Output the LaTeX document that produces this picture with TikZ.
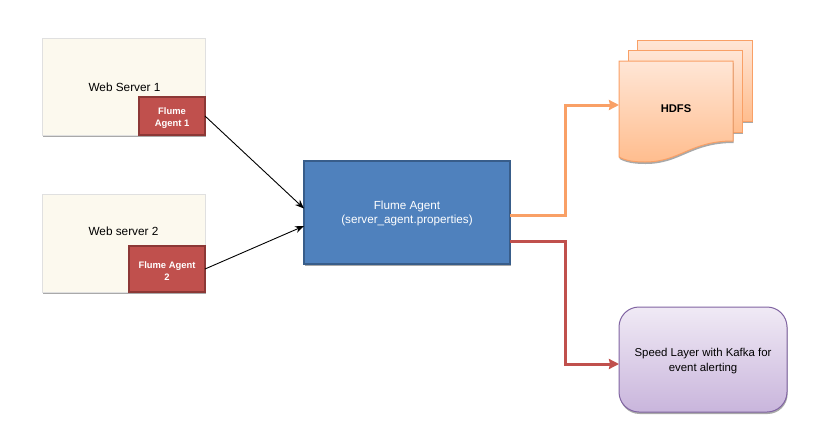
\documentclass[tikz,border=0pt]{standalone}
\usepackage{fontspec}
\setmainfont{Liberation Sans}
\usetikzlibrary{arrows.meta,shadows,calc}
\definecolor{creamc}{HTML}{FCF9EE}
\definecolor{redf}{HTML}{C0504D}
\definecolor{redd}{HTML}{8C3836}
\definecolor{bluef}{HTML}{4F81BD}
\definecolor{blued}{HTML}{385D8A}
\definecolor{orl}{HTML}{FFE6D6}
\definecolor{ord}{HTML}{FFBD8E}
\definecolor{orline}{HTML}{F9A066}
\definecolor{pul}{HTML}{F0EAF5}
\definecolor{pud}{HTML}{C9B5DC}
\definecolor{puline}{HTML}{8064A2}
\tikzset{
  softshadow/.style={drop shadow={shadow xshift=0.6pt,shadow yshift=-2pt,opacity=0.45,fill=black!75}},
  serverbox/.style={rectangle,fill=creamc,draw=black!12,line width=1pt,softshadow,inner sep=0pt,outer sep=0pt},
  servertext/.style={font=\fontsize{11.8}{14}\selectfont},
  agentbox/.style={rectangle,fill=redf,draw=redd,line width=1.2pt,inner sep=0pt,outer sep=0pt},
  agenttext/.style={text=white,font=\bfseries\fontsize{9.4}{12.4}\selectfont,align=center,yshift=-1.8pt},
  mainbox/.style={rectangle,fill=bluef,draw=blued,line width=1.3pt,softshadow,inner sep=0pt,outer sep=0pt},
  maintext/.style={text=white,font=\fontsize{11.7}{14}\selectfont,align=center,yshift=-1pt},
  speedbox/.style={rectangle,rounded corners=20pt,top color=pul,bottom color=pud,draw=puline,line width=1pt,softshadow,inner sep=0pt,outer sep=0pt},
  speedtext/.style={font=\fontsize{11.4}{15}\selectfont,align=center,yshift=-1.5pt},
  pagefill/.style={top color=orl,bottom color=ord,draw=orline,line width=1pt,softshadow},
  thinarrow/.style={draw=black,line width=0.9pt,-{Stealth[length=9pt,width=7pt]}},
  fatarrow/.style={line width=3pt,line join=miter,-{Stealth[length=10pt,width=10pt,inset=1pt]}},
}
\begin{document}
\begin{tikzpicture}[x=1pt,y=-1pt]
\useasboundingbox (0,0) rectangle (816,437);
% web servers
\node[serverbox,minimum width=163pt,minimum height=97pt] (ws1) at (123.5,86.5) {};
\node[servertext] (ws1t) at (124.5,87.5) {Web Server 1};
\node[agentbox,minimum width=66pt,minimum height=38pt,label={[agenttext]center:Flume\\Agent 1}] (fa1) at (172,116) {};
\node[serverbox,minimum width=163pt,minimum height=98pt] (ws2) at (123.5,243) {};
\node[servertext] (ws2t) at (123.5,231) {Web server 2};
\node[agentbox,minimum width=76pt,minimum height=46pt,label={[agenttext]center:Flume Agent\\2}] (fa2) at (167,269) {};
% central agent
\node[mainbox,minimum width=206pt,minimum height=103pt,label={[maintext]center:Flume Agent\\(server\_agent.properties)}] (main) at (407,212.5) {};
% HDFS stacked pages
\path[pagefill] (637,40) -- (752,40) -- (752,121) -- (637,121) -- cycle;
\path[pagefill] (628,50) -- (742,50) -- (742,132) -- (628,132) -- cycle;
\path[pagefill] (619,61) -- (733,61) -- (733,141)
  .. controls (690,141) and (680,162) .. (645,162)
  .. controls (635,162) and (626,161) .. (619,157) -- cycle;
\node[rectangle,minimum width=114pt,minimum height=96pt,inner sep=0pt,outer sep=0pt,font=\bfseries\fontsize{11.2}{13}\selectfont] (hdfs) at (676,109) {HDFS};
% speed layer
\node[speedbox,minimum width=168pt,minimum height=105pt,label={[speedtext]center:Speed Layer with Kafka for\\event alerting}] (speed) at (703,359.5) {};
% connectors
\coordinate (orgout) at ($(main.east)+(0,2.5)$);
\coordinate (redout) at ($(main.east)+(0,28.5)$);
\coordinate (orgin) at ($(hdfs.west)+(0,-4)$);
\coordinate (redin) at ($(speed.west)+(0,4.5)$);
\coordinate (mainin1) at ($(main.west)+(0,-4)$);
\coordinate (mainin2) at ($(main.west)+(0,13.5)$);
\draw[thinarrow] (fa1.east) -- (mainin1);
\draw[thinarrow] (fa2.east) -- (mainin2);
\draw[fatarrow,draw=orline] (orgout) -- (565,215) -- (565,105) -- (orgin);
\draw[fatarrow,draw=redf] (redout) -- (565,241) -- (565,364) -- (redin);
\end{tikzpicture}
\end{document}
